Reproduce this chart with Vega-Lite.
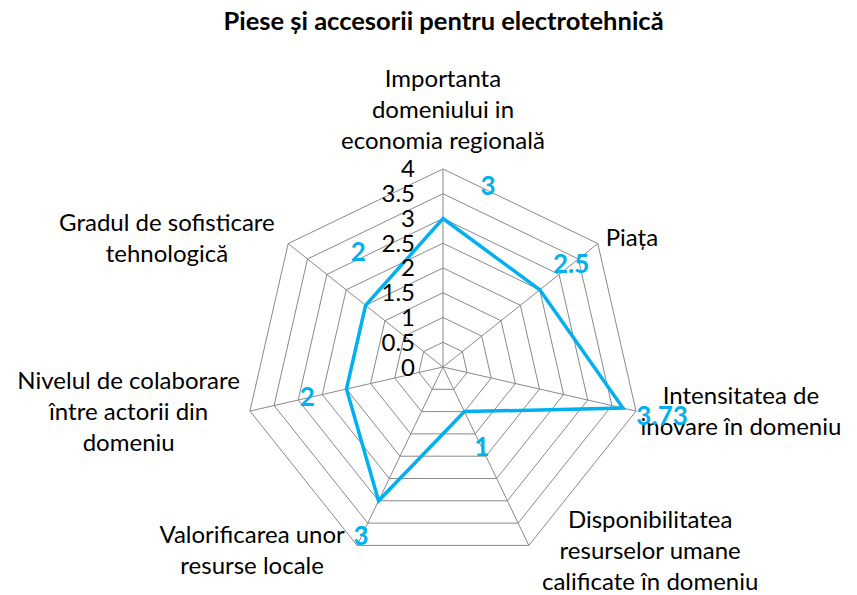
{
  "$schema": "https://vega.github.io/schema/vega-lite/v6.json",
  "width": 857,
  "height": 550,
  "autosize": {"type": "none"},
  "padding": {"left": 0, "right": 0, "top": 45, "bottom": 0},
  "background": "white",
  "title": {"text": "Piese și accesorii pentru electrotehnică", "font": "Lato", "fontSize": 25.5, "fontWeight": "bold", "color": "#000000", "anchor": "middle", "frame": "group", "baseline": "alphabetic", "offset": -10, "dx": 15},
  "config": {"view": {"stroke": null}},
  "datasets": {
    "axes": [
      {"category": ["Importanta", "domeniului in", "economia regională"], "value": 3},
      {"category": ["Piața"], "value": 2.5},
      {"category": ["Intensitatea de", "inovare în domeniu"], "value": 3.73},
      {"category": ["Disponibilitatea", "resurselor umane", "calificate în domeniu"], "value": 1},
      {"category": ["Valorificarea unor", "resurse locale"], "value": 3},
      {"category": ["Nivelul de colaborare", "între actorii din", "domeniu"], "value": 2},
      {"category": ["Gradul de sofisticare", "tehnologică"], "value": 2}
    ],
    "ticks": [
      {"level": 0}, {"level": 0.5}, {"level": 1}, {"level": 1.5}, {"level": 2},
      {"level": 2.5}, {"level": 3}, {"level": 3.5}, {"level": 4}
    ]
  },
  "layer": [
    {
      "data": {"name": "axes"},
      "transform": [
        {"window": [{"op": "row_number", "as": "rn"}]},
        {"joinaggregate": [{"op": "count", "as": "n"}]},
        {"calculate": "(datum.rn - 1) * 2 * PI / datum.n", "as": "a"},
        {"calculate": "sin(datum.a)", "as": "s"},
        {"calculate": "cos(datum.a)", "as": "c"},
        {"calculate": "[0.5, 1, 1.5, 2, 2.5, 3, 3.5, 4]", "as": "level"},
        {"flatten": ["level"]},
        {"calculate": "datum.level * datum.s", "as": "gx"},
        {"calculate": "datum.level * datum.c", "as": "gy"}
      ],
      "mark": {"type": "line", "interpolate": "linear-closed", "stroke": "#898989", "strokeWidth": 1},
      "encoding": {
        "x": {"field": "gx", "type": "quantitative", "scale": {"domain": [-8.949, 8.364], "nice": false, "zero": false}, "axis": null},
        "y": {"field": "gy", "type": "quantitative", "scale": {"domain": [-4.606, 6.505], "nice": false, "zero": false}, "axis": null},
        "detail": {"field": "level", "type": "nominal"},
        "order": {"field": "rn", "type": "quantitative"}
      }
    },
    {
      "data": {"name": "axes"},
      "transform": [
        {"window": [{"op": "row_number", "as": "rn"}]},
        {"joinaggregate": [{"op": "count", "as": "n"}]},
        {"calculate": "(datum.rn - 1) * 2 * PI / datum.n", "as": "a"},
        {"calculate": "4 * sin(datum.a)", "as": "sx"},
        {"calculate": "4 * cos(datum.a)", "as": "sy"},
        {"calculate": "0", "as": "zero"}
      ],
      "mark": {"type": "rule", "stroke": "#898989", "strokeWidth": 1},
      "encoding": {
        "x": {"field": "zero", "type": "quantitative", "scale": {"domain": [-8.949, 8.364], "nice": false, "zero": false}, "axis": null},
        "y": {"field": "zero", "type": "quantitative", "scale": {"domain": [-4.606, 6.505], "nice": false, "zero": false}, "axis": null},
        "x2": {"field": "sx"},
        "y2": {"field": "sy"}
      }
    },
    {
      "data": {"name": "axes"},
      "transform": [
        {"window": [{"op": "row_number", "as": "rn"}]},
        {"joinaggregate": [{"op": "count", "as": "n"}]},
        {"calculate": "(datum.rn - 1) * 2 * PI / datum.n", "as": "a"},
        {"calculate": "datum.value * sin(datum.a)", "as": "px"},
        {"calculate": "datum.value * cos(datum.a)", "as": "py"}
      ],
      "mark": {"type": "line", "interpolate": "linear-closed", "stroke": "#00B0F0", "strokeWidth": 3.5},
      "encoding": {
        "x": {"field": "px", "type": "quantitative", "scale": {"domain": [-8.949, 8.364], "nice": false, "zero": false}, "axis": null},
        "y": {"field": "py", "type": "quantitative", "scale": {"domain": [-4.606, 6.505], "nice": false, "zero": false}, "axis": null},
        "order": {"field": "rn", "type": "quantitative"}
      }
    },
    {
      "data": {"name": "ticks"},
      "transform": [
        {"calculate": "0", "as": "zero"}
      ],
      "mark": {"type": "text", "align": "right", "baseline": "middle", "dx": -28, "dy": 1.5, "font": "Lato", "fontSize": 24, "color": "#000000"},
      "encoding": {
        "x": {"field": "zero", "type": "quantitative", "scale": {"domain": [-8.949, 8.364], "nice": false, "zero": false}, "axis": null},
        "y": {"field": "level", "type": "quantitative", "scale": {"domain": [-4.606, 6.505], "nice": false, "zero": false}, "axis": null},
        "text": {"field": "level", "type": "quantitative", "format": ".1~f"}
      }
    },
    {
      "data": {"name": "axes"},
      "transform": [
        {"window": [{"op": "row_number", "as": "rn"}]},
        {"joinaggregate": [{"op": "count", "as": "n"}]},
        {"calculate": "(datum.rn - 1) * 2 * PI / datum.n", "as": "a"},
        {"calculate": "sin(datum.a)", "as": "s"},
        {"calculate": "cos(datum.a)", "as": "c"},
        {"calculate": "max(length(datum.category[0]), length(datum.category[1] || ''), length(datum.category[2] || ''))", "as": "maxLen"},
        {"calculate": "datum.s > 0.1 ? 1 : (datum.s < -0.1 ? -1 : 0)", "as": "dir"},
        {"filter": "datum.dir != 0"},
        {"calculate": "4 * datum.s + datum.dir * (0.14 + datum.maxLen * 0.11)", "as": "lx"},
        {"calculate": "4.14 * datum.c + (length(datum.category) - 1) * 0.3131", "as": "ly"}
      ],
      "mark": {"type": "text", "align": "center", "baseline": "middle", "lineHeight": 31, "font": "Lato", "fontSize": 24, "color": "#000000"},
      "encoding": {
        "x": {"field": "lx", "type": "quantitative", "scale": {"domain": [-8.949, 8.364], "nice": false, "zero": false}, "axis": null},
        "y": {"field": "ly", "type": "quantitative", "scale": {"domain": [-4.606, 6.505], "nice": false, "zero": false}, "axis": null},
        "text": {"field": "category", "type": "nominal"}
      }
    },
    {
      "data": {"name": "axes"},
      "transform": [
        {"window": [{"op": "row_number", "as": "rn"}]},
        {"joinaggregate": [{"op": "count", "as": "n"}]},
        {"calculate": "(datum.rn - 1) * 2 * PI / datum.n", "as": "a"},
        {"filter": "datum.rn == 1"},
        {"calculate": "4 * sin(datum.a)", "as": "lx"},
        {"calculate": "4 * cos(datum.a) + (length(datum.category) - 1) * 0.6263", "as": "ly"}
      ],
      "mark": {"type": "text", "align": "center", "baseline": "bottom", "dy": -15, "lineHeight": 31, "font": "Lato", "fontSize": 24, "color": "#000000"},
      "encoding": {
        "x": {"field": "lx", "type": "quantitative", "scale": {"domain": [-8.949, 8.364], "nice": false, "zero": false}, "axis": null},
        "y": {"field": "ly", "type": "quantitative", "scale": {"domain": [-4.606, 6.505], "nice": false, "zero": false}, "axis": null},
        "text": {"field": "category", "type": "nominal"}
      }
    },
    {
      "data": {"name": "axes"},
      "transform": [
        {"window": [{"op": "row_number", "as": "rn"}]},
        {"joinaggregate": [{"op": "count", "as": "n"}]},
        {"calculate": "(datum.rn - 1) * 2 * PI / datum.n", "as": "a"},
        {"filter": "datum.rn >= 2 && datum.rn <= 6"},
        {"calculate": "(datum.value + 0.81) * sin(datum.a)", "as": "dlx"},
        {"calculate": "(datum.value + 0.81) * cos(datum.a)", "as": "dly"}
      ],
      "mark": {"type": "text", "align": "center", "baseline": "middle", "font": "Lato", "fontSize": 26, "fontWeight": "bold", "color": "#00B0F0"},
      "encoding": {
        "x": {"field": "dlx", "type": "quantitative", "scale": {"domain": [-8.949, 8.364], "nice": false, "zero": false}, "axis": null},
        "y": {"field": "dly", "type": "quantitative", "scale": {"domain": [-4.606, 6.505], "nice": false, "zero": false}, "axis": null},
        "text": {"field": "value", "type": "quantitative"}
      }
    },
    {
      "data": {"name": "axes"},
      "transform": [
        {"window": [{"op": "row_number", "as": "rn"}]},
        {"joinaggregate": [{"op": "count", "as": "n"}]},
        {"calculate": "(datum.rn - 1) * 2 * PI / datum.n", "as": "a"},
        {"filter": "datum.rn == 1"},
        {"calculate": "(datum.value + 0.81) * sin(datum.a)", "as": "dlx"},
        {"calculate": "(datum.value + 0.81) * cos(datum.a)", "as": "dly"}
      ],
      "mark": {"type": "text", "align": "center", "baseline": "middle", "dx": 45, "dy": 8.6, "font": "Lato", "fontSize": 26, "fontWeight": "bold", "color": "#00B0F0"},
      "encoding": {
        "x": {"field": "dlx", "type": "quantitative", "scale": {"domain": [-8.949, 8.364], "nice": false, "zero": false}, "axis": null},
        "y": {"field": "dly", "type": "quantitative", "scale": {"domain": [-4.606, 6.505], "nice": false, "zero": false}, "axis": null},
        "text": {"field": "value", "type": "quantitative"}
      }
    },
    {
      "data": {"name": "axes"},
      "transform": [
        {"window": [{"op": "row_number", "as": "rn"}]},
        {"joinaggregate": [{"op": "count", "as": "n"}]},
        {"calculate": "(datum.rn - 1) * 2 * PI / datum.n", "as": "a"},
        {"filter": "datum.rn == 7"},
        {"calculate": "(datum.value + 0.81) * sin(datum.a)", "as": "dlx"},
        {"calculate": "(datum.value + 0.81) * cos(datum.a)", "as": "dly"}
      ],
      "mark": {"type": "text", "align": "center", "baseline": "middle", "dx": 24, "dy": -27, "font": "Lato", "fontSize": 26, "fontWeight": "bold", "color": "#00B0F0"},
      "encoding": {
        "x": {"field": "dlx", "type": "quantitative", "scale": {"domain": [-8.949, 8.364], "nice": false, "zero": false}, "axis": null},
        "y": {"field": "dly", "type": "quantitative", "scale": {"domain": [-4.606, 6.505], "nice": false, "zero": false}, "axis": null},
        "text": {"field": "value", "type": "quantitative"}
      }
    }
  ]
}
